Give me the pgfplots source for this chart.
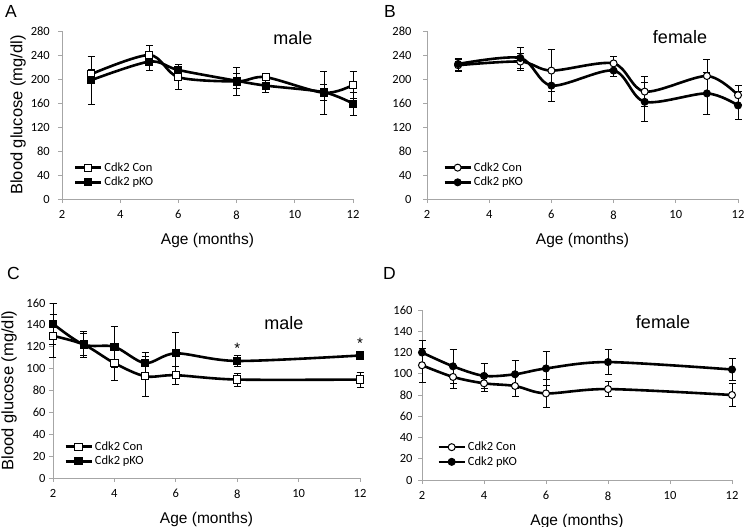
\documentclass[border=0pt]{standalone}
\usepackage{fontspec}
\setmainfont{Liberation Sans}
\newfontfamily\calib{Carlito}
\usepackage{pgfplots}
\pgfplotsset{compat=1.18}
\pgfplotsset{
  panel/.style={
    scale only axis, clip=false,
    axis lines=left,
    axis line style={-, draw=gray!70, line width=0.9pt},
    tick style={draw=gray!70, line width=0.9pt},
    tick align=outside, major tick length=4pt,
    xmin=2, xmax=12, xtick={2,4,6,8,10,12},
    /pgf/number format/assume math mode=true,
    ticklabel style={font=\calib\fontsize{12.5}{14}\selectfont},
    xticklabel style={yshift=-4pt},
    xlabel={Age (months)},
    every axis x label/.style={at={([yshift=-41pt]axis description cs:0.5,0)}, anchor=center, font=\fontsize{15.5}{18}\selectfont},
    every axis y label/.style={at={([xshift=-44pt]axis description cs:0,0.5)}, anchor=center, rotate=90, font=\fontsize{16.5}{18}\selectfont},
    legend style={draw=none, fill=none, font=\calib\fontsize{12.5}{14}\selectfont, anchor=west, row sep=0.5pt, inner sep=0pt, cells={anchor=west}},
    legend image code/.code={\draw[#1, mark repeat=2, mark phase=2] plot coordinates {(0pt,0pt) (13pt,0pt) (26pt,0pt)};},
    legend cell align=left,
    error bars/y dir=both, error bars/y explicit,
    error bars/error bar style={line width=0.8pt, black, solid},
    error bars/error mark options={rotate=90, mark size=3.5pt, line width=0.8pt, black},
  },
  ser/.style={black, line width=2.6pt, smooth, tension=0.5, mark size=3.6pt},
  consq/.style={ser, mark=square*, mark options={line width=1pt, fill=white, draw=black}},
  kosq/.style={ser, mark=square*, mark options={line width=1pt, fill=black, draw=black}},
  conci/.style={ser, mark=*, mark size=3.5pt, mark options={line width=1pt, fill=white, draw=black}},
  koci/.style={ser, mark=*, mark size=3.5pt, mark options={line width=1pt, fill=black, draw=black}},
}
\begin{document}
\begin{tikzpicture}[x=1pt,y=1pt]
% Panel A
\begin{axis}[panel, at={(62pt,-199pt)}, anchor=south west, width=291pt, height=168pt,
  ymin=0, ymax=280, ytick={0,40,...,280}, yticklabel style={xshift=-4.7pt},
  ylabel={Blood glucose (mg/dl)},
  legend style={at={(axis description cs:0.04,0.143)}}]
\addplot[consq] coordinates {(3,208) +- (0,8) (5,240) +- (0,16) (6,203) +- (0,21) (8,196) +- (0,24) (9,203) +- (0,5) (11,177) +- (0,36) (12,190) +- (0,23)};
\addlegendentry{Cdk2 Con}
\addplot[kosq] coordinates {(3,198) +- (0,40) (5,229) +- (0,14) (6,215) +- (0,5) (8,197) +- (0,12) (9,189) +- (0,12) (11,178) +- (0,13) (12,159) +- (0,19)};
\addlegendentry{Cdk2 pKO}
\end{axis}
% Panel B
\begin{axis}[panel, at={(427pt,-199pt)}, anchor=south west, width=311pt, height=168pt,
  ymin=0, ymax=280, ytick={0,40,...,280}, yticklabel style={xshift=-8pt},
  legend style={at={(axis description cs:0.052,0.143)}}]
\addplot[conci] coordinates {(3,223) +- (0,10) (5,229) +- (0,14) (6,214) +- (0,35) (8,226) +- (0,11) (9,179) +- (0,25) (11,205) +- (0,27) (12,173) +- (0,16)};
\addlegendentry{Cdk2 Con}
\addplot[koci] coordinates {(3,225) +- (0,10) (5,235) +- (0,17) (6,189) +- (0,27) (8,214) +- (0,10) (9,162) +- (0,32) (11,176) +- (0,35) (12,156) +- (0,23)};
\addlegendentry{Cdk2 pKO}
\end{axis}
% Panel C
\begin{axis}[panel, at={(53pt,-478pt)}, anchor=south west, width=307pt, height=175pt,
  ymin=0, ymax=160, ytick={0,20,...,160}, yticklabel style={xshift=0pt},
  ylabel={Blood glucose (mg/dl)},
  legend style={at={(axis description cs:0.036,0.137)}}]
\addplot[consq] coordinates {(2,130) +- (0,20) (3,122) +- (0,12) (4,105) +- (0,16) (5,93) +- (0,18) (6,94) +- (0,8) (8,90) +- (0,6) (12,90) +- (0,7)};
\addlegendentry{Cdk2 Con}
\addplot[kosq] coordinates {(2,141) +- (0,19) (3,122) +- (0,10) (4,120) +- (0,19) (5,105) +- (0,10) (6,114) +- (0,19) (8,107) +- (0,5) (12,112) +- (0,4)};
\addlegendentry{Cdk2 pKO}
\node[font=\fontsize{15}{16}\selectfont] at (axis cs:8,119) {*};
\node[font=\fontsize{15}{16}\selectfont] at (axis cs:12,123) {*};
\end{axis}
% Panel D
\begin{axis}[panel, at={(422pt,-480pt)}, anchor=south west, width=310pt, height=170pt,
  ymin=0, ymax=160, ytick={0,20,...,160}, yticklabel style={xshift=-2pt},
  legend style={at={(axis description cs:0.049,0.15)}}]
\addplot[conci] coordinates {(2,108) +- (0,16) (3,97) +- (0,11) (4,91) +- (0,8) (5,88.5) +- (0,10) (6,81.5) +- (0,13) (8,85.6) +- (0,7) (12,80) +- (0,11)};
\addlegendentry{Cdk2 Con}
\addplot[koci] coordinates {(2,120) +- (0,11) (3,107) +- (0,16) (4,98) +- (0,12) (5,99.5) +- (0,13) (6,105) +- (0,16) (8,111) +- (0,12) (12,104) +- (0,10)};
\addlegendentry{Cdk2 pKO}
\end{axis}
% labels
\node[anchor=north west, inner sep=0pt, font=\fontsize{17.5}{17.5}\selectfont] at (5pt,-5pt) {A};
\node[anchor=north west, inner sep=0pt, font=\fontsize{17.5}{17.5}\selectfont] at (384pt,-5pt) {B};
\node[anchor=north west, inner sep=0pt, font=\fontsize{17.5}{17.5}\selectfont] at (7pt,-267pt) {C};
\node[anchor=north west, inner sep=0pt, font=\fontsize{17.5}{17.5}\selectfont] at (383pt,-267pt) {D};
\node[font=\fontsize{18}{18}\selectfont] at (293pt,-38pt) {male};
\node[font=\fontsize{18}{18}\selectfont] at (680pt,-37pt) {female};
\node[font=\fontsize{18}{18}\selectfont] at (284pt,-323pt) {male};
\node[font=\fontsize{18}{18}\selectfont] at (663pt,-322pt) {female};
\pgfresetboundingbox
\useasboundingbox (0pt,0pt) rectangle (745pt,-527pt);
\end{tikzpicture}
\end{document}
